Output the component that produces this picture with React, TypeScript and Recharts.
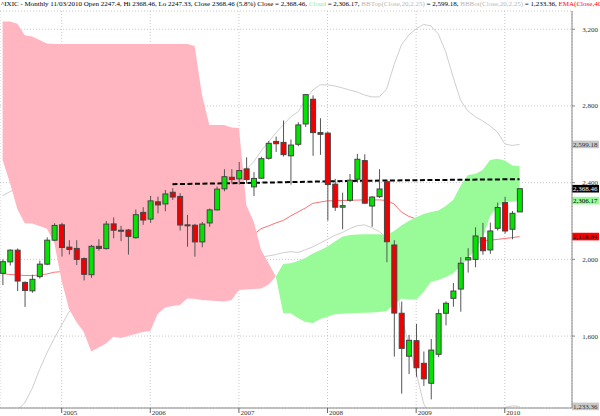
import { ComposedChart, Area, Line, Bar, XAxis, YAxis, CartesianGrid, ReferenceLine } from 'recharts';

// monthly candles, May 2004 .. Mar 2010
const open = [1927, 1987, 2048, 1880, 1836, 1910, 1975, 2100, 2180, 2064, 2057, 2004, 1920, 2068, 2056, 2185, 2152, 2153, 2113, 2245, 2210, 2300, 2289, 2350, 2328, 2180, 2178, 2091, 2190, 2258, 2368, 2428, 2420, 2472, 2378, 2423, 2527, 2615, 2610, 2540, 2600, 2706, 2835, 2661, 2658, 2392, 2272, 2308, 2418, 2515, 2278, 2327, 2405, 2075, 1719, 1495, 1576, 1458, 1354, 1505, 1719, 1797, 1845, 1997, 2000, 2113, 2049, 2162, 2296, 2157, 2247.4];
const high = [2000, 2052, 2057, 1885, 1920, 1993, 2115, 2188, 2191, 2100, 2100, 2010, 2076, 2105, 2200, 2219, 2175, 2158, 2260, 2272, 2331, 2327, 2362, 2371, 2345, 2232, 2185, 2195, 2265, 2380, 2470, 2470, 2508, 2532, 2455, 2535, 2617, 2640, 2724, 2625, 2715, 2861, 2855, 2736, 2665, 2420, 2348, 2445, 2550, 2548, 2330, 2470, 2410, 2100, 1780, 1606, 1663, 1520, 1585, 1740, 1781, 1877, 2011, 2058, 2167, 2190, 2192, 2296, 2326, 2252, 2368.46];
const low = [1866, 1968, 1835, 1752, 1826, 1900, 1970, 2095, 2015, 2025, 1970, 1890, 1904, 2045, 2052, 2110, 2095, 2025, 2108, 2180, 2190, 2240, 2251, 2310, 2150, 2066, 2014, 2063, 2170, 2255, 2355, 2395, 2390, 2395, 2330, 2420, 2520, 2560, 2536, 2390, 2590, 2690, 2540, 2545, 2202, 2253, 2157, 2300, 2400, 2290, 2170, 2320, 1985, 1493, 1300, 1402, 1388, 1340, 1270, 1490, 1656, 1753, 1727, 1931, 1959, 2024, 2029, 2150, 2134, 2105, 2247.33];
const close = [1988, 2048, 1887, 1838, 1896, 1975, 2100, 2177, 2062, 2052, 2000, 1922, 2068, 2057, 2184, 2152, 2151, 2120, 2233, 2205, 2305, 2284, 2341, 2325, 2179, 2175, 2091, 2184, 2258, 2366, 2431, 2416, 2463, 2416, 2422, 2525, 2605, 2603, 2546, 2596, 2701, 2859, 2661, 2652, 2390, 2272, 2280, 2413, 2522, 2293, 2325, 2367, 2092, 1720, 1536, 1578, 1435, 1377, 1527, 1717, 1771, 1835, 1980, 2009, 2122, 2045, 2148, 2271, 2148, 2240, 2368.46];

// ichimoku cloud spans
const spanA = [2518, 2398, 2263, 2188, 2187, 2174, 2159, 2086, 1887, 1741, 1674, 1621, 1519, 1540, 1561, 1597, 1590, 1600, 1611, 1621, 1627, 1715, 1749, 1757, 1762, 1796, 1794, 1788, 1786, 1783, 1780, 1788, 1840, 1843, 1846, 1848, 1867, 1911, 1976, 1980, 1992, 2007, 2031, 2047, 2067, 2093, 2118, 2127, 2130, 2131, 2131, 2131, 2127, 2148, 2177, 2200, 2219, 2237, 2247, 2255, 2278, 2310, 2383, 2440, 2445, 2466, 2518, 2524, 2516, 2490, 2487];
const spanB = [3240, 3240, 3228, 3168, 3162, 3144, 3126, 3123, 3123, 3123, 3123, 3123, 3123, 3123, 3123, 3123, 3123, 3123, 3123, 3123, 3123, 3123, 3123, 3123, 3123, 3123, 3113, 2857, 2701, 2701, 2701, 2688, 2685, 2284, 2197, 2049, 1981, 1911, 1719, 1719, 1694, 1674, 1668, 1689, 1702, 1714, 1716, 1719, 1720, 1722, 1723, 1725, 1731, 1767, 1796, 1791, 1791, 1830, 1883, 1893, 1908, 1926, 1966, 2007, 2049, 2112, 2226, 2273, 2301, 2301, 2306.17];

const bbTop = [2332, 2353, 2370, 2360, 2340, 2320, 2300, 2290, 2280, 2270, 2260, 2250, 2250, 2250, 2260, 2270, 2280, 2280, 2290, 2300, 2320, 2340, 2360, 2380, 2390, 2390, 2400, 2410, 2420, 2430, 2440, 2450, 2460, 2470, 2508, 2565, 2612, 2659, 2701, 2743, 2769, 2831, 2883, 2910, 2910, 2904, 2894, 2883, 2873, 2857, 2847, 2847, 2888, 3014, 3118, 3170, 3202, 3225, 3217, 3175, 3082, 2951, 2831, 2774, 2744, 2722, 2696, 2664, 2602, 2594, 2599.18];
const bbBot = [1150, 1180, 1215, 1251, 1326, 1425, 1512, 1588, 1658, 1726, 1760, 1780, 1800, 1810, 1820, 1830, 1840, 1850, 1860, 1870, 1880, 1890, 1900, 1910, 1920, 1930, 1940, 1950, 1960, 1970, 1980, 1990, 2000, 2005, 2010, 2012, 2018, 2025, 2035, 2040, 2036, 2050, 2065, 2085, 2105, 2125, 2140, 2160, 2175, 2180, 2165, 2145, 2110, 1950, 1700, 1560, 1410, 1250, 1170, 1120, 1090, 1080, 1085, 1100, 1130, 1160, 1190, 1212, 1228, 1236, 1233.36];
const ema = [1926, 1921, 1919, 1916, 1915, 1919, 1924, 1933, 1936, 1940, 1943, 1945, 1950, 1955, 1960, 1966, 1972, 1978, 1985, 1992, 2000, 2008, 2016, 2024, 2030, 2034, 2038, 2042, 2050, 2060, 2072, 2085, 2097, 2110, 2130, 2160, 2174, 2190, 2203, 2226, 2247, 2268, 2292, 2299, 2305, 2306, 2307, 2308, 2309, 2310, 2310, 2310, 2307, 2289, 2247, 2224, 2211, 2190, 2175, 2160, 2145, 2130, 2115, 2103, 2097, 2097, 2100, 2104, 2109, 2113, 2118.84];

// dashed trend line
const trendIdx = [23, 35, 47, 59, 70];
const trendVal = [2392, 2400, 2409, 2414, 2418];

const yearTicks = [8, 20, 32, 44, 56, 68];
const yearLabels = ['2005', '2006', '2007', '2008', '2009', '2010'];
const priceTicks = [1600, 2000, 2400, 2800, 3200];

const FONT = '"Liberation Serif", "DejaVu Serif", serif';
const last = close.length - 1;

const data = close.map((c, i) => {
  const a = spanA[i];
  const b = spanB[i];
  const t = trendIdx.indexOf(i);
  return {
    i,
    o: open[i],
    h: high[i],
    l: low[i],
    c,
    range: [low[i], high[i]],
    pink: b >= a ? [a, b] : null,
    green: a >= b ? [b, a] : null,
    bbTop: bbTop[i],
    bbBot: bbBot[i],
    ema: ema[i],
    trend: t >= 0 ? trendVal[t] : null,
  };
});

const fmt = (v: number) => v.toLocaleString('en-US', { minimumFractionDigits: 2, maximumFractionDigits: 2 });

const Candle = (props: any) => {
  const { x, width, payload } = props;
  let { y, height } = props;
  if (!payload || payload.o == null) return null;
  if (height < 0) { y += height; height = -height; }
  const { o, h, l, c } = payload;
  const per = h - l > 0 ? height / (h - l) : 0;
  const yOf = (v: number) => y + (h - v) * per;
  const top = yOf(Math.max(o, c));
  const bot = yOf(Math.min(o, c));
  const cx = x + width / 2;
  return (
    <g>
      <line x1={cx} x2={cx} y1={y} y2={y + height} stroke="#555" strokeWidth={1} />
      <rect x={cx - 2.5} y={top} width={5} height={Math.max(bot - top, 1)} fill={c >= o ? '#00e400' : '#f00000'} stroke="#444" strokeWidth={1} />
    </g>
  );
};

const XTick = ({ x, y, payload }: any) => (
  <g>
    <line x1={x} x2={x} y1={y} y2={y + 5} stroke="#666" />
    <text x={x + 1.5} y={y + 6.5} fontSize={7} fontFamily={FONT} fill="#333">
      {yearLabels[yearTicks.indexOf(payload.value)]}
    </text>
  </g>
);

const YTick = ({ x, y, payload }: any) => (
  <g>
    <line x1={x} x2={x + 3} y1={y} y2={y} stroke="#888" />
    <text x={x + 26} y={y + 2.5} fontSize={7} fontFamily={FONT} fill="#333" textAnchor="end">
      {payload.value.toLocaleString('en-US')}
    </text>
  </g>
);

const Tag = (props: any) => {
  const { viewBox, text, bg, fg } = props;
  if (!viewBox) return null;
  const x = viewBox.x + viewBox.width;
  const y = viewBox.y;
  return (
    <g>
      <rect x={x} y={y - 3.8} width={27} height={7.6} fill={bg} />
      <text x={x + 1} y={y + 2.5} fontSize={7} fontFamily={FONT} fill={fg}>{text}</text>
    </g>
  );
};

const tags = [
  { v: bbTop[last], bg: '#c8c8c8', fg: '#333' },
  { v: close[last], bg: '#000000', fg: '#ffffff' },
  { v: spanB[last], bg: '#98fb98', fg: '#000' },
  { v: ema[last], bg: '#ff0000', fg: '#000' },
  { v: bbBot[last], bg: '#c8c8c8', fg: '#333' },
];

export default function App() {
  return (
    <div style={{ position: 'absolute', left: 0, top: 0, width: 600, height: 416, overflow: 'hidden', background: '#fff' }}>
      <ComposedChart width={600} height={416} data={data} margin={{ top: 11, right: 0, bottom: 0, left: 0 }}>
        <CartesianGrid stroke="#c8c8c8" strokeDasharray="1 2" />
        <XAxis
          type="number"
          dataKey="i"
          domain={[-0.35, 77.1]}
          allowDataOverflow
          ticks={yearTicks}
          interval={0}
          height={8}
          tickSize={0}
          tickMargin={0}
          tickLine={false}
          axisLine={{ stroke: '#888' }}
          tick={<XTick />}
        />
        <YAxis
          orientation="right"
          type="number"
          domain={[1225, 3295]}
          allowDataOverflow
          ticks={priceTicks}
          interval={0}
          width={28}
          tickSize={0}
          tickMargin={0}
          tickLine={false}
          axisLine={{ stroke: '#888' }}
          tick={<YTick />}
        />
        <Line dataKey="bbTop" stroke="#cfcfcf" strokeWidth={1} dot={false} activeDot={false} connectNulls isAnimationActive={false} zIndex={10} />
        <Line dataKey="bbBot" stroke="#cfcfcf" strokeWidth={1} dot={false} activeDot={false} connectNulls isAnimationActive={false} zIndex={10} />
        <Line dataKey="ema" stroke="#ff7070" strokeWidth={1} dot={false} activeDot={false} connectNulls isAnimationActive={false} zIndex={20} />
        <Area dataKey="pink" type="linear" stroke="none" fill="#ffb6c1" fillOpacity={1} isAnimationActive={false} activeDot={false} zIndex={30} />
        <Area dataKey="green" type="linear" stroke="none" fill="#98fb98" fillOpacity={1} isAnimationActive={false} activeDot={false} zIndex={30} />
        <Line dataKey="trend" stroke="#000" strokeWidth={2} strokeDasharray="5 2.5" dot={false} activeDot={false} connectNulls isAnimationActive={false} zIndex={40} />
        <Bar dataKey="range" barSize={6} isAnimationActive={false} zIndex={50} shape={(p: any) => <Candle {...p} />} />
        {tags.map((t) => (
          <ReferenceLine key={t.v} y={t.v} stroke="none" strokeWidth={0} label={<Tag text={fmt(t.v)} bg={t.bg} fg={t.fg} />} />
        ))}
      </ComposedChart>
      <div style={{ position: 'absolute', left: 1, top: -1, fontFamily: FONT, fontSize: 7, lineHeight: '10px', whiteSpace: 'nowrap', color: '#000' }}>
        ^IXIC - Monthly 11/03/2010 Open 2247.4, Hi 2368.46, Lo 2247.33, Close 2368.46 (5.8%) Close = 2,368.46,{' '}
        <span style={{ color: '#90ee90' }}>Cloud</span> = 2,306.17,{' '}
        <span style={{ color: '#b8b8b8' }}>BBTop(Close,20,2.25)</span> = 2,599.18,{' '}
        <span style={{ color: '#b8b8b8' }}>BBBot(Close,20,2.25)</span> = 1,233.36,{' '}
        <span style={{ color: '#ff0000' }}>EMA(Close,40)</span> = 2,118.84
      </div>
    </div>
  );
}
